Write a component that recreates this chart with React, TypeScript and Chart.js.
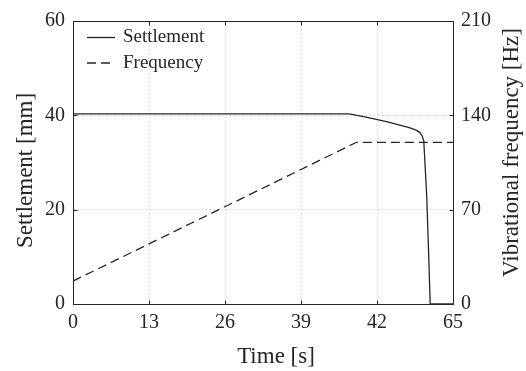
import { useEffect, useRef } from 'react';
import { Chart, registerables } from 'chart.js';

Chart.register(...registerables);

// ---- data ----
const settlementTime = [0, 47.2, 49.5, 51.7, 53.8, 55.9, 57.5, 58.6, 59.3, 59.7, 60.0, 60.2, 60.5, 60.8, 61.1, 65];
const settlementMm = [40.3, 40.3, 39.8, 39.2, 38.6, 37.9, 37.4, 36.9, 36.4, 35.7, 34.6, 30, 23, 12, 0, 0];
const frequencyTime = [0, 48.5, 65];
const frequencyHz = [17, 120, 120];
const xTickLabels = ['0', '13', '26', '39', '42', '65'];
const seriesLabels = ['Settlement', 'Frequency'];
const xTitle = 'Time [s]';
const yTitle = 'Settlement [mm]';
const y1Title = 'Vibrational frequency [Hz]';

const INK = '#262626';
const GRID = '#c4c4c4';
const SERIF = '"Liberation Serif", "Times New Roman", serif';

const framePlugin = {
  id: 'frame',
  afterDraw(chart: any) {
    const { ctx, chartArea: a, scales } = chart;
    ctx.save();
    ctx.strokeStyle = INK;
    ctx.lineWidth = 1;
    ctx.setLineDash([]);
    const L = Math.round(a.left) + 0.5;
    const R = Math.round(a.right) + 0.5;
    const T = Math.round(a.top) + 0.5;
    const B = Math.round(a.bottom) + 0.5;
    ctx.beginPath();
    ctx.rect(L, T, R - L, B - T);
    // inward ticks
    const tl = 4;
    scales.x.ticks.forEach((t: any) => {
      const px = Math.round(scales.x.getPixelForValue(t.value)) + 0.5;
      ctx.moveTo(px, B);
      ctx.lineTo(px, B - tl);
      ctx.moveTo(px, T);
      ctx.lineTo(px, T + tl);
    });
    scales.y.ticks.forEach((t: any) => {
      const py = Math.round(scales.y.getPixelForValue(t.value)) + 0.5;
      ctx.moveTo(L, py);
      ctx.lineTo(L + tl, py);
    });
    scales.y1.ticks.forEach((t: any) => {
      const py = Math.round(scales.y1.getPixelForValue(t.value)) + 0.5;
      ctx.moveTo(R, py);
      ctx.lineTo(R - tl, py);
    });
    ctx.stroke();

    // legend
    const rows = [37.5, 63];
    const baselines = [42, 68];
    ctx.font = `19px ${SERIF}`;
    ctx.fillStyle = INK;
    ctx.textBaseline = 'alphabetic';
    ctx.textAlign = 'left';
    chart.data.datasets.forEach((ds: any, i: number) => {
      ctx.save();
      ctx.strokeStyle = ds.borderColor;
      ctx.lineWidth = ds.borderWidth;
      ctx.setLineDash(ds.borderDash || []);
      ctx.beginPath();
      ctx.moveTo(87, rows[i]);
      ctx.lineTo(115, rows[i]);
      ctx.stroke();
      ctx.restore();
      ctx.fillText(ds.label, 123, baselines[i]);
    });

    // axis titles
    ctx.font = `23px ${SERIF}`;
    ctx.textAlign = 'center';
    ctx.fillText(xTitle, 276, 363);
    ctx.save();
    ctx.translate(32, 170.5);
    ctx.rotate(-Math.PI / 2);
    ctx.fillText(yTitle, 0, 0);
    ctx.restore();
    ctx.save();
    ctx.translate(518, 152.5);
    ctx.rotate(-Math.PI / 2);
    ctx.fillText(y1Title, 0, 0);
    ctx.restore();
    ctx.restore();
  },
};

export default function App() {
  const ref = useRef<HTMLCanvasElement>(null);
  useEffect(() => {
    document.body.style.margin = '0';
    const canvas = ref.current;
    if (!canvas) return;
    const tickFont = { family: SERIF, size: 20 };
    const chart = new Chart(canvas, {
      type: 'line',
      data: {
        datasets: [
          {
            label: seriesLabels[0],
            data: settlementTime.map((t, i) => ({ x: t, y: settlementMm[i] })),
            yAxisID: 'y',
            borderColor: INK,
            borderWidth: 1.3,
            pointRadius: 0,
            tension: 0,
            fill: false,
          },
          {
            label: seriesLabels[1],
            data: frequencyTime.map((t, i) => ({ x: t, y: frequencyHz[i] })),
            yAxisID: 'y1',
            borderColor: INK,
            borderWidth: 1.3,
            borderDash: [9, 5],
            pointRadius: 0,
            tension: 0,
            fill: false,
          },
        ],
      },
      options: {
        animation: false,
        responsive: false,
        devicePixelRatio: 1,
        layout: { padding: { top: 21, left: 0, right: 0, bottom: 0 } },
        plugins: { legend: { display: false }, tooltip: { enabled: false } },
        scales: {
          x: {
            type: 'linear',
            min: 0,
            max: 65,
            ticks: {
              stepSize: 13,
              padding: 7,
              color: INK,
              font: tickFont,
              maxRotation: 0,
              callback: (_v: any, i: number) => xTickLabels[i],
            },
            grid: { color: GRID, drawTicks: false, lineWidth: 1 },
            border: { display: true, color: INK, width: 1, dash: [1, 3] },
            afterFit: (s: any) => { s.height = 67; },
          },
          y: {
            type: 'linear',
            position: 'left',
            min: 0,
            max: 60,
            ticks: { stepSize: 20, padding: 8, color: INK, font: tickFont },
            grid: { color: GRID, drawTicks: false, lineWidth: 1 },
            border: { display: true, color: INK, width: 1, dash: [1, 3] },
            afterFit: (s: any) => { s.width = 73; },
          },
          y1: {
            type: 'linear',
            position: 'right',
            min: 0,
            max: 210,
            ticks: { stepSize: 70, padding: 8, color: INK, font: tickFont },
            grid: { drawOnChartArea: false, drawTicks: false },
            border: { display: true, color: INK, width: 1 },
            afterFit: (s: any) => { s.width = 73; },
          },
        },
      },
      plugins: [framePlugin],
    } as any);
    return () => chart.destroy();
  }, []);
  return (
    <div style={{ width: 526, height: 371 }}>
      <canvas ref={ref} width={526} height={371} style={{ display: 'block' }} />
    </div>
  );
}
